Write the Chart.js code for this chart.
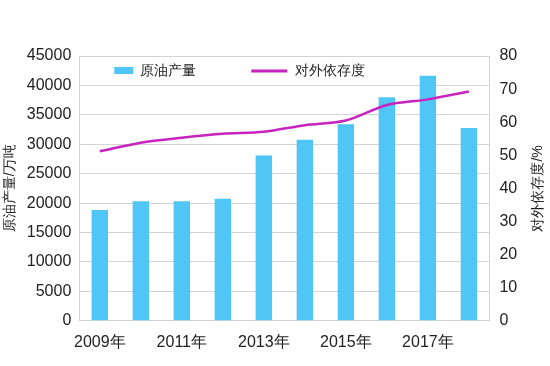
<!DOCTYPE html>
<html>
<head>
<meta charset="utf-8">
<script src="https://cdn.jsdelivr.net/npm/chart.js@4"></script>
<style>
    html, body { margin: 0; padding: 0; background: #fff; }
    #wrap { width: 550px; height: 366px; }
</style>
</head>
<body>
<div id="wrap"><canvas id="oilChart"></canvas></div>
<script>
// years, production (万吨) and import dependency (%)
const years = ['2009年', '2010年', '2011年', '2012年', '2013年', '2014年', '2015年', '2016年', '2017年', '2018年'];
const production = [18850, 20300, 20300, 20750, 28100, 30750, 33400, 38000, 41650, 32750];
const dependency = [51.2, 53.8, 55.3, 56.5, 57.1, 59.1, 60.5, 65.2, 66.9, 69.3];
const leftTicks = [0, 5000, 10000, 15000, 20000, 25000, 30000, 35000, 40000, 45000];
const rightTicks = [0, 10, 20, 30, 40, 50, 60, 70, 80];

const barColor = '#4fc6f6';
const lineColor = '#c824bd';
const gridColor = '#d4d4d4';
const fontFamily = '"Liberation Sans", Arial, sans-serif';

// legend drawn inside the plot, plus right axis title reading bottom-to-top
const insideLegend = {
    id: 'insideLegend',
    afterDraw(chart) {
        const ctx = chart.ctx;
        const area = chart.chartArea;
        const ds = chart.data.datasets;
        ctx.save();
        ctx.font = '14px ' + fontFamily;
        ctx.fillStyle = '#222';
        ctx.textBaseline = 'middle';
        const y = area.top + 15;

        ctx.fillStyle = barColor;
        ctx.fillRect(area.left + 35, y - 4, 19, 7);
        ctx.fillStyle = '#222';
        ctx.fillText(ds[0].label, area.left + 61, y);

        ctx.strokeStyle = lineColor;
        ctx.lineWidth = 3;
        ctx.beginPath();
        ctx.moveTo(area.left + 172, y);
        ctx.lineTo(area.left + 208, y);
        ctx.stroke();
        ctx.fillText(ds[1].label, area.left + 216, y);

        // right axis title
        const yr = chart.scales.yR;
        ctx.translate(yr.right - 10, (area.top + area.bottom) / 2);
        ctx.rotate(-Math.PI / 2);
        ctx.textAlign = 'center';
        ctx.fillText('对外依存度/%', 0, 0);
        ctx.restore();
    }
};

const ctx = document.getElementById('oilChart').getContext('2d');
new Chart(ctx, {
    data: {
        labels: years,
        datasets: [{
            type: 'bar',
            label: '原油产量',
            data: production,
            yAxisID: 'y',
            backgroundColor: barColor,
            barPercentage: 0.4,
            categoryPercentage: 1.0,
            order: 1
        }, {
            type: 'line',
            label: '对外依存度',
            data: dependency,
            yAxisID: 'yR',
            borderColor: lineColor,
            borderWidth: 2.5,
            pointRadius: 0,
            tension: 0.3,
            order: 0
        }]
    },
    options: {
        responsive: true,
        maintainAspectRatio: false,
        animation: false,
        layout: { padding: { top: 56, left: 2, right: 2, bottom: 2 } },
        plugins: {
            legend: { display: false },
            tooltip: { enabled: false }
        },
        scales: {
            x: {
                grid: { display: false, drawTicks: false },
                border: { display: true, color: gridColor },
                ticks: {
                    color: '#222',
                    font: { family: fontFamily, size: 16 },
                    padding: 12,
                    autoSkip: false,
                    maxRotation: 0,
                    callback: function (v, i) { return i % 2 === 0 ? years[i] : ''; }
                }
            },
            y: {
                position: 'left',
                min: 0,
                max: 45000,
                afterBuildTicks: function (s) { s.ticks = leftTicks.map(v => ({ value: v })); },
                grid: { color: gridColor, drawTicks: false },
                border: { color: gridColor },
                ticks: {
                    color: '#222',
                    font: { family: fontFamily, size: 16 },
                    padding: 8,
                    callback: function (v) { return String(v); }
                },
                title: {
                    display: true,
                    text: '原油产量/万吨',
                    color: '#222',
                    font: { family: fontFamily, size: 14 },
                    padding: 0
                }
            },
            yR: {
                position: 'right',
                min: 0,
                max: 80,
                afterBuildTicks: function (s) { s.ticks = rightTicks.map(v => ({ value: v })); },
                grid: { drawOnChartArea: false, drawTicks: false },
                border: { color: gridColor },
                ticks: {
                    color: '#222',
                    font: { family: fontFamily, size: 16 },
                    padding: 10,
                    callback: function (v) { return String(v); }
                },
                title: {
                    display: true,
                    text: '对外依存度/%',
                    color: 'rgba(0,0,0,0)',
                    font: { family: fontFamily, size: 14 },
                    padding: 2
                }
            }
        }
    },
    plugins: [insideLegend]
});
</script>
</body>
</html>
